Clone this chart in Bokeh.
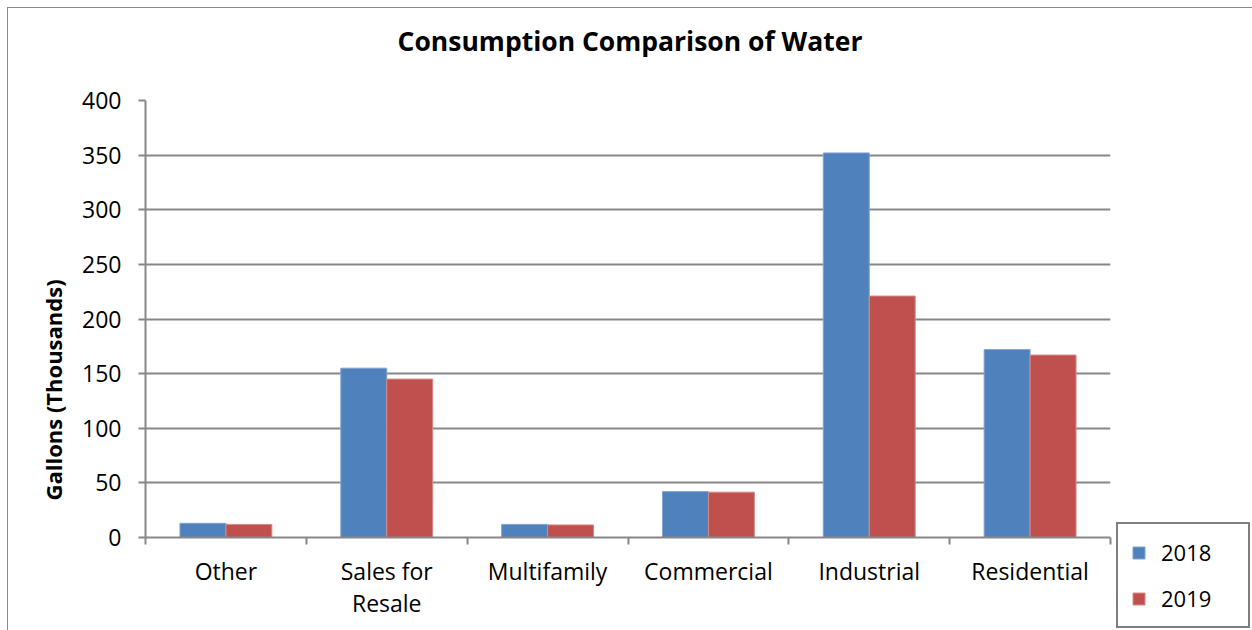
from bokeh.plotting import figure
from bokeh.layouts import row, column
from bokeh.models import ColumnDataSource, FixedTicker, Legend, LegendItem, Title, Div
from bokeh.transform import dodge
from bokeh.embed import file_html
from bokeh.resources import INLINE

# Water consumption by customer class (thousands of gallons)
categories = ["Other", "Sales for Resale", "Multifamily", "Commercial", "Industrial", "Residential"]
category_labels = ["Other", "Sales for\nResale", "Multifamily", "Commercial", "Industrial", "Residential"]
years = ["2018", "2019"]
values_2018 = [13, 155, 12, 42, 352, 172]
values_2019 = [12, 145, 11.5, 41.5, 221, 167]
y_ticks = [0, 50, 100, 150, 200, 250, 300, 350, 400]

FONT = "Open Sans"
BLUE = "#4F81BD"
RED = "#C0504D"
GRID = "#878787"
EDGE = "1px solid #8a8a8a"

centers = [i + 0.5 for i in range(len(categories))]
source = ColumnDataSource(dict(x=centers, y2018=values_2018, y2019=values_2019))

heading = Div(
    text="Consumption Comparison of Water", width=1244, height=76, margin=0,
    styles={"font-family": FONT, "font-size": "26.5px", "font-weight": "bold",
            "color": "black", "text-align": "center", "line-height": "66px"},
)

p = figure(
    frame_width=965, frame_height=437,
    x_range=(0, len(categories)), y_range=(0, 400),
    output_backend="svg", toolbar_location=None, title=None,
    min_border_left=137, min_border_right=2,
    min_border_top=16, min_border_bottom=92,
)
p.margin = 0
p.outline_line_color = None
p.background_fill_color = "white"
p.border_fill_color = "white"

bar_w = 0.2857
p.vbar(x=dodge("x", -bar_w / 2), top="y2018", width=bar_w, source=source,
       fill_color=BLUE, line_color="#7fa3d1", line_width=1)
p.vbar(x=dodge("x", bar_w / 2), top="y2019", width=bar_w, source=source,
       fill_color=RED, line_color="#d58a88", line_width=1)

# y axis
p.yaxis.ticker = FixedTicker(ticks=y_ticks)
p.yaxis.axis_line_color = GRID
p.yaxis.axis_line_width = 2
p.yaxis.major_tick_line_color = GRID
p.yaxis.major_tick_line_width = 2
p.yaxis.major_tick_out = 7
p.yaxis.major_tick_in = 0
p.yaxis.minor_tick_line_color = None
p.yaxis.major_label_text_font = FONT
p.yaxis.major_label_text_font_size = "23px"
p.yaxis.major_label_text_color = "black"
p.yaxis.major_label_standoff = 17

# y axis title, set a little below the middle of the axis
p.add_layout(Title(text="Gallons (Thousands)", text_font=FONT, text_font_size="22px",
                   text_font_style="bold", text_color="black", align="left",
                   offset=37, standoff=24), "left")

# x axis: labels at category centres, tick marks on category boundaries
p.xaxis.ticker = FixedTicker(ticks=centers, minor_ticks=list(range(len(categories) + 1)))
p.xaxis.major_label_overrides = {c: lab for c, lab in zip(centers, category_labels)}
p.xaxis.axis_line_color = GRID
p.xaxis.axis_line_width = 2
p.xaxis.major_tick_line_color = None
p.xaxis.major_tick_out = 0
p.xaxis.major_tick_in = 0
p.xaxis.minor_tick_line_color = GRID
p.xaxis.minor_tick_line_width = 2
p.xaxis.minor_tick_out = 7
p.xaxis.minor_tick_in = 0
p.xaxis.major_label_text_font = FONT
p.xaxis.major_label_text_font_size = "23px"
p.xaxis.major_label_text_line_height = 1.02
p.xaxis.major_label_text_color = "black"
p.xaxis.major_label_standoff = 10

p.xgrid.grid_line_color = None
p.ygrid.grid_line_color = GRID
p.ygrid.grid_line_width = 2

# side strip holding the legend box; its frame fills the whole strip
side = figure(width=140, height=546, x_range=(0, 1), y_range=(0, 1),
              output_backend="svg", toolbar_location=None, title=None,
              min_border=0, x_axis_type=None, y_axis_type=None)
side.frame_align = False
side.margin = 0
side.outline_line_color = None
side.grid.visible = False
side.background_fill_color = "white"
side.border_fill_color = "white"
# key swatches, parked outside the visible range of the strip
key18 = side.vbar(x=[-1], top=[0], width=0.1, fill_color=BLUE, line_color="#7fa3d1")
key19 = side.vbar(x=[-1], top=[0], width=0.1, fill_color=RED, line_color="#d58a88")

legend = Legend(
    items=[LegendItem(label=years[0], renderers=[key18]), LegendItem(label=years[1], renderers=[key19])],
    location=(4, 2),
    border_line_color="black", border_line_width=2,
    background_fill_color="white", background_fill_alpha=1,
    label_text_font=FONT, label_text_font_size="22px", label_text_color="black",
    glyph_width=15, glyph_height=15, label_height=20, label_width=74,
    label_standoff=15, spacing=16, padding=13, margin=0,
)
side.add_layout(legend, "center")

layout = column(heading, row(p, side, spacing=0), spacing=0)
layout.margin = (7, 0, 0, 7)
layout.styles = {"border-left": EDGE, "border-top": EDGE}
open("out.html", "w").write(file_html(layout, INLINE))
